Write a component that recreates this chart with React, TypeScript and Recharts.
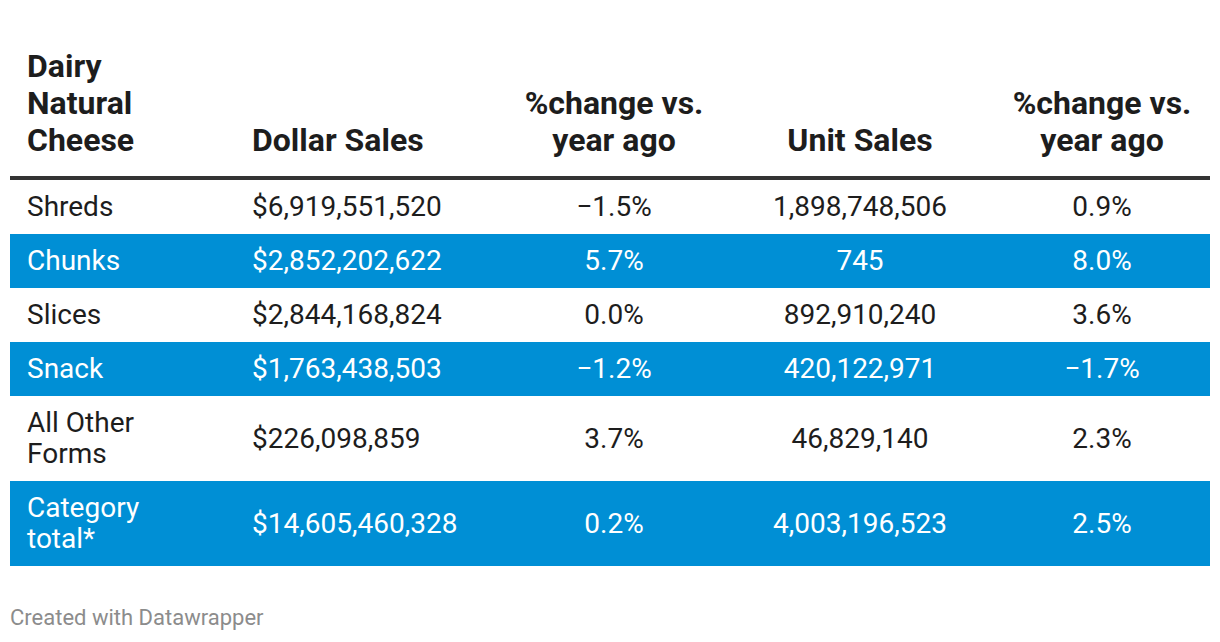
import React from 'react';
import { BarChart, Bar, XAxis, YAxis, Customized } from 'recharts';

// table content
const headerLabels = [
  ['Dairy', 'Natural', 'Cheese'],
  ['Dollar Sales'],
  ['%change vs.', 'year ago'],
  ['Unit Sales'],
  ['%change vs.', 'year ago'],
];
const rowNames = [['Shreds'], ['Chunks'], ['Slices'], ['Snack'], ['All Other', 'Forms'], ['Category', 'total*']];
const dollarSales = ['$6,919,551,520', '$2,852,202,622', '$2,844,168,824', '$1,763,438,503', '$226,098,859', '$14,605,460,328'];
const dollarChange = ['\u22121.5%', '5.7%', '0.0%', '\u22121.2%', '3.7%', '0.2%'];
const unitSales = ['1,898,748,506', '745', '892,910,240', '420,122,971', '46,829,140', '4,003,196,523'];
const unitChange = ['0.9%', '8.0%', '3.6%', '\u22121.7%', '2.3%', '2.5%'];

const COLS: { x: number; anchor: 'start' | 'middle' }[] = [
  { x: 27, anchor: 'start' },
  { x: 252, anchor: 'start' },
  { x: 614, anchor: 'middle' },
  { x: 860, anchor: 'middle' },
  { x: 1102, anchor: 'middle' },
];

const ROW_PAD = 0.742; // padding of a row, in line heights
const LINE_H = 31;
const BLUE = '#008fd5';
const INK = '#1d1d1d';
const FONT = 'Roboto, sans-serif';

// one stacked bar per table row, height = number of text lines + padding
const stackRow: Record<string, string | number> = { name: 'table' };
rowNames.forEach((lines, i) => {
  stackRow[`row${i}`] = lines.length + ROW_PAD;
});
const chartData = [stackRow];
const totalUnits = rowNames.reduce((s, l) => s + l.length + ROW_PAD, 0);

const makeRowShape = (i: number) => (props: any) => {
  const { x, y, width, height } = props;
  const top = Math.min(y, y + height);
  const h = Math.abs(height);
  const cy = top + h / 2;
  const shaded = i % 2 === 1;
  const cells = [rowNames[i], [dollarSales[i]], [dollarChange[i]], [unitSales[i]], [unitChange[i]]];
  return (
    <g>
      <rect x={x} y={top} width={width} height={h} fill={shaded ? BLUE : 'transparent'} />
      {cells.map((lines, c) =>
        lines.map((t, k) => (
          <text
            key={`${c}-${k}`}
            x={COLS[c].x}
            y={cy - ((lines.length - 1) * LINE_H) / 2 + k * LINE_H + 9}
            textAnchor={COLS[c].anchor}
            fontFamily={FONT}
            fontSize={28}
            fill={shaded ? '#ffffff' : INK}
          >
            {t}
          </text>
        ))
      )}
    </g>
  );
};

const Header = () => (
  <g>
    {headerLabels.map((lines, c) =>
      lines.map((t, k) => (
        <text
          key={`${c}-${k}`}
          x={COLS[c].x}
          y={151 - (lines.length - 1 - k) * 37}
          textAnchor={COLS[c].anchor}
          fontFamily={FONT}
          fontWeight={700}
          fontSize={32}
          fill={INK}
        >
          {t}
        </text>
      ))
    )}
    <rect x={10} y={176} width={1200} height={4} fill="#333333" />
    <text x={10} y={625} fontFamily={FONT} fontSize={22} fill="#8c8c8c">
      Created with Datawrapper
    </text>
  </g>
);

const App: React.FC = () => {
  return (
    <div style={{ position: 'absolute', left: 0, top: 0, width: 1220, height: 642, background: '#fff' }}>
      <BarChart
        width={1220}
        height={642}
        data={chartData}
        margin={{ top: 180, right: 10, bottom: 76, left: 10 }}
        barCategoryGap={0}
        barGap={0}
      >
        <XAxis dataKey="name" hide />
        <YAxis type="number" domain={[0, totalUnits]} reversed hide width={0} />
        {rowNames.map((_, i) => (
          <Bar
            key={i}
            dataKey={`row${i}`}
            stackId="t"
            shape={makeRowShape(i)}
            isAnimationActive={false}
          />
        ))}
        <Customized component={Header} />
      </BarChart>
    </div>
  );
};

export default App;
